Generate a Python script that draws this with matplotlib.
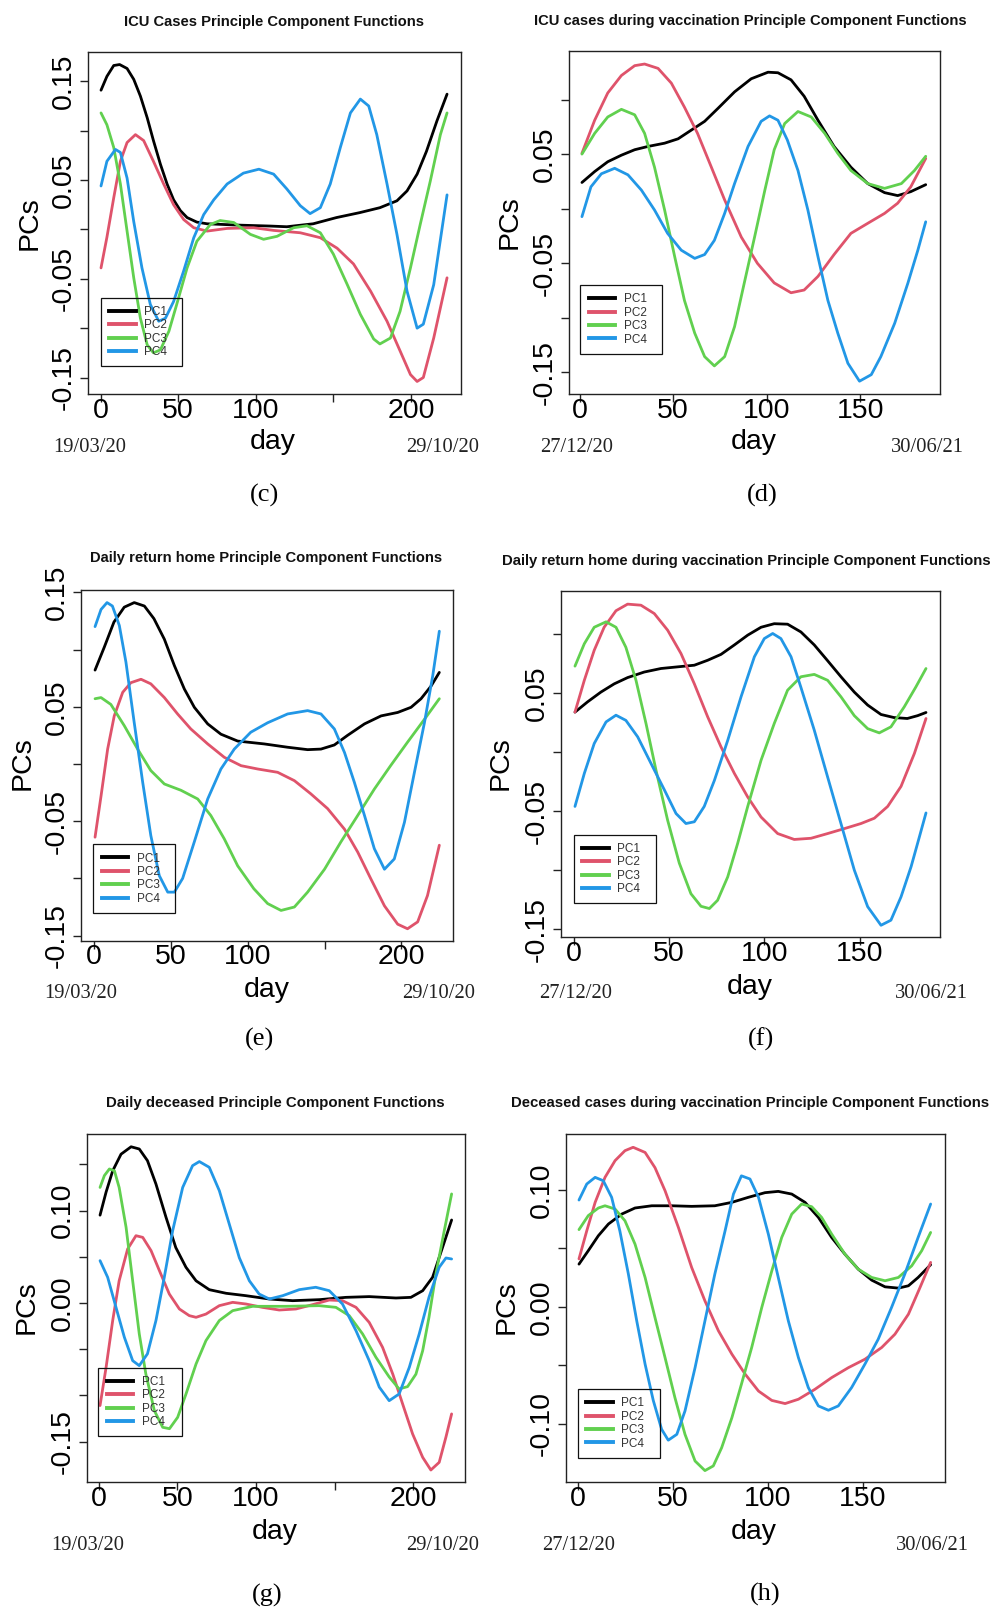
import matplotlib
matplotlib.use('Agg')
import matplotlib.pyplot as plt
from matplotlib.lines import Line2D

W, H, DPI = 994, 1609, 100

# ---------------- data ----------------
# (c) ICU cases
c_pc1_day = [0.2, 4, 8.4, 12.2, 17, 21.3, 25.6, 30, 34, 38.5, 42.8, 47, 51.4, 55.7, 62, 68.6, 88, 109.4, 120, 137, 152, 167, 180, 191, 197.5, 204, 210, 216.8, 223.3]
c_pc1_val = [0.141, 0.155, 0.166, 0.167, 0.163, 0.152, 0.135, 0.113, 0.090, 0.066, 0.046, 0.030, 0.019, 0.012, 0.0074, 0.0057, 0.0044, 0.0034, 0.0027, 0.0057, 0.012, 0.017, 0.022, 0.029, 0.039, 0.056, 0.079, 0.110, 0.137]
c_pc2_day = [0.2, 4, 8.4, 12.7, 17, 22.4, 27.7, 34, 40.6, 47, 53.5, 60, 68.6, 81.5, 98.6, 111.5, 128.7, 141.6, 152.4, 163, 174, 184.6, 193, 199.7, 204, 208, 214.7, 223.3]
c_pc2_val = [-0.039, -0.008, 0.032, 0.069, 0.088, 0.096, 0.090, 0.069, 0.046, 0.025, 0.010, 0.0017, -0.0017, 0.001, 0.0017, -0.001, -0.0034, -0.0084, -0.019, -0.035, -0.0625, -0.093, -0.123, -0.147, -0.154, -0.150, -0.110, -0.049]
c_pc3_day = [0.2, 4, 8.4, 12.7, 17, 21.3, 25.6, 30, 34, 38.5, 44, 49, 55.7, 62, 70.7, 77, 85.8, 96.5, 105, 113.7, 124.4, 133, 141.6, 150, 159, 167.4, 176, 180, 186.8, 193, 199.7, 206, 212.5, 219, 223.3]
c_pc3_val = [0.118, 0.106, 0.083, 0.046, -0.0017, -0.049, -0.090, -0.117, -0.125, -0.122, -0.103, -0.076, -0.039, -0.012, 0.005, 0.009, 0.007, -0.005, -0.010, -0.007, 0.0017, 0.0037, -0.0034, -0.025, -0.056, -0.086, -0.111, -0.116, -0.110, -0.083, -0.039, 0.005, 0.049, 0.096, 0.118]
c_pc4_day = [0.2, 4, 9.5, 12.7, 17, 21.3, 26.6, 32, 37.4, 41.7, 47, 53.5, 60, 66.4, 72.9, 81.5, 92, 102, 111.5, 120, 128.7, 135, 141.6, 148, 154.5, 161, 167.4, 172.8, 178, 184.6, 191, 197.5, 204, 208, 214.7, 223.3]
c_pc4_val = [0.044, 0.069, 0.081, 0.078, 0.052, 0.008, -0.039, -0.076, -0.093, -0.090, -0.073, -0.042, -0.0084, 0.015, 0.030, 0.046, 0.057, 0.061, 0.056, 0.041, 0.024, 0.016, 0.022, 0.046, 0.083, 0.118, 0.132, 0.125, 0.096, 0.046, -0.005, -0.0625, -0.100, -0.096, -0.056, 0.035]

# (d) ICU cases during vaccination
d_pc1_day = [1.2, 8, 15, 22.3, 29.4, 36.5, 45.4, 52.6, 59.7, 66.8, 74, 82.8, 91.7, 100.7, 106, 113, 120, 127.4, 136, 145, 154, 163, 170, 177, 185]
d_pc1_val = [0.024, 0.034, 0.043, 0.049, 0.054, 0.057, 0.060, 0.064, 0.072, 0.080, 0.092, 0.107, 0.119, 0.125, 0.1245, 0.118, 0.103, 0.081, 0.057, 0.038, 0.023, 0.0147, 0.012, 0.0156, 0.022]
d_pc2_day = [1.2, 8, 15, 22.3, 29.4, 34.7, 41.9, 49, 56, 63, 70.4, 77.5, 86.4, 95, 104, 113, 120, 127.4, 136, 145, 154, 163, 170, 177, 185]
d_pc2_val = [0.0507, 0.081, 0.106, 0.122, 0.131, 0.1325, 0.1285, 0.115, 0.093, 0.069, 0.038, 0.008, -0.026, -0.050, -0.068, -0.077, -0.0745, -0.062, -0.042, -0.0226, -0.0134, -0.0043, 0.005, 0.020, 0.046]
d_pc3_day = [1.2, 8, 15, 22.3, 29.4, 34.7, 40, 45.4, 50.8, 56, 61.5, 66.8, 72, 77.5, 82.8, 88, 93.5, 99, 104, 109.6, 116.7, 123.8, 131, 138, 145, 154, 163, 172, 179, 185]
d_pc3_val = [0.050, 0.069, 0.084, 0.091, 0.086, 0.069, 0.038, -0.0012, -0.044, -0.084, -0.114, -0.1355, -0.144, -0.1355, -0.108, -0.068, -0.026, 0.017, 0.054, 0.078, 0.089, 0.084, 0.069, 0.0507, 0.035, 0.023, 0.0186, 0.023, 0.035, 0.048]
d_pc4_day = [1.2, 6, 11.6, 18.7, 25.8, 33, 40, 47, 54.3, 61.5, 66.8, 72, 77.5, 82.8, 90, 97, 101.5, 106, 111, 116.7, 122, 127.4, 132.7, 138, 143.4, 149.6, 155.9, 161, 168.4, 175.5, 180.8, 185]
d_pc4_val = [-0.0073, 0.020, 0.032, 0.037, 0.031, 0.017, -0.0012, -0.0226, -0.038, -0.0455, -0.042, -0.029, -0.0043, 0.023, 0.057, 0.080, 0.085, 0.081, 0.063, 0.035, -0.0012, -0.044, -0.084, -0.114, -0.1416, -0.158, -0.152, -0.1355, -0.105, -0.068, -0.038, -0.012]

# (e) Daily return home
e_pc1_day = [0.7, 6.7, 13, 19.7, 26.2, 32.8, 39, 45.8, 52.3, 58.8, 65.3, 74, 82.6, 93.5, 110.8, 126, 139, 147.7, 156.4, 165, 176, 186.8, 197.6, 206.3, 212.8, 219.3, 224.7]
e_pc1_val = [0.082, 0.102, 0.124, 0.137, 0.141, 0.138, 0.127, 0.109, 0.086, 0.0655, 0.0495, 0.035, 0.026, 0.020, 0.0175, 0.0146, 0.0125, 0.013, 0.0166, 0.025, 0.035, 0.042, 0.045, 0.0495, 0.057, 0.068, 0.080]
e_pc2_day = [0.7, 4.6, 8.9, 13.2, 18.7, 24, 30.6, 37, 45.8, 54.4, 63, 74, 84.8, 95.7, 106.5, 119.5, 130.4, 141, 152, 163, 171.6, 180, 189, 197.6, 204, 210.6, 217, 224.7]
e_pc2_val = [-0.064, -0.028, 0.013, 0.042, 0.0626, 0.071, 0.074, 0.070, 0.058, 0.0437, 0.0306, 0.0175, 0.0058, -0.0015, -0.0044, -0.0073, -0.0146, -0.026, -0.039, -0.057, -0.077, -0.100, -0.124, -0.140, -0.144, -0.138, -0.115, -0.071]
e_pc3_day = [0.7, 4.6, 11, 19.7, 28.4, 37, 45.8, 56.6, 67.5, 76, 84.8, 93.5, 104, 113, 121.7, 130.4, 139, 150, 160.7, 171.6, 182.4, 193, 204, 215, 224.7]
e_pc3_val = [0.057, 0.058, 0.052, 0.0335, 0.013, -0.0058, -0.0175, -0.023, -0.0306, -0.045, -0.0655, -0.089, -0.109, -0.122, -0.128, -0.125, -0.112, -0.092, -0.068, -0.045, -0.022, -0.0015, 0.019, 0.039, 0.057]
e_pc4_day = [0.7, 4.6, 8.5, 12, 16.5, 20.8, 26.2, 31.7, 37, 42.5, 48, 52.3, 57.7, 65.3, 74, 82.6, 91.3, 102, 113, 126, 139, 147.7, 156.4, 163, 169.4, 176, 182.4, 189, 195.4, 202, 208.5, 215, 220.4, 224.7]
e_pc4_val = [0.120, 0.135, 0.141, 0.138, 0.121, 0.089, 0.036, -0.016, -0.0626, -0.0976, -0.112, -0.112, -0.100, -0.068, -0.0306, -0.0044, 0.013, 0.0277, 0.036, 0.0437, 0.0466, 0.0437, 0.0306, 0.010, -0.016, -0.045, -0.074, -0.092, -0.083, -0.051, -0.0073, 0.036, 0.077, 0.116]

# (f) Daily return home during vaccination
f_pc1_day = [0.7, 7.3, 14.3, 21.3, 28.3, 37, 45.8, 54.5, 63.3, 70.3, 77.3, 84.3, 91.3, 98.3, 105.2, 112.2, 119.2, 126.2, 133, 140.2, 147.2, 154.2, 161.2, 168, 175, 180.4, 184.8]
f_pc1_val = [0.034, 0.0427, 0.051, 0.058, 0.0633, 0.068, 0.071, 0.0724, 0.0738, 0.078, 0.083, 0.091, 0.0993, 0.106, 0.109, 0.1086, 0.102, 0.091, 0.078, 0.064, 0.051, 0.040, 0.032, 0.0294, 0.0286, 0.031, 0.0337]
f_pc2_day = [0.7, 5.6, 10.8, 16, 22.2, 28.3, 35.3, 42.3, 49.3, 56.3, 63.3, 70.3, 77.3, 84.3, 91.3, 98.3, 107, 115.7, 124.5, 133.2, 142, 150.7, 157.7, 164.7, 171.7, 178.7, 184.8]
f_pc2_val = [0.034, 0.061, 0.0865, 0.106, 0.120, 0.1256, 0.1247, 0.1176, 0.1035, 0.0837, 0.058, 0.030, 0.0045, -0.018, -0.038, -0.055, -0.069, -0.074, -0.073, -0.069, -0.0648, -0.0605, -0.056, -0.046, -0.029, -0.0011, 0.0286]
f_pc3_day = [0.7, 5.6, 10.8, 17, 22.2, 27.4, 32.7, 38, 43.2, 49.3, 55.4, 61.5, 66.8, 71.2, 75.5, 80.8, 86, 91.3, 98.3, 105.2, 112.2, 119.2, 126.2, 133.2, 140.2, 147.2, 154.2, 160.3, 166.4, 173.4, 179.5, 184.8]
f_pc3_val = [0.073, 0.092, 0.106, 0.1106, 0.106, 0.089, 0.061, 0.024, -0.0153, -0.0577, -0.094, -0.120, -0.1307, -0.1326, -0.1256, -0.1058, -0.0775, -0.046, -0.0068, 0.0243, 0.0526, 0.064, 0.066, 0.061, 0.047, 0.031, 0.020, 0.0164, 0.0215, 0.0385, 0.0554, 0.071]
f_pc4_day = [0.7, 5.6, 10.8, 17, 22.2, 27.4, 33.6, 40.6, 47.6, 53.7, 58.9, 63.3, 68.5, 73.8, 80.8, 87.8, 94.8, 100, 104.4, 108.7, 114, 119.2, 126.2, 133.2, 140.2, 147.2, 154.2, 161.2, 166.4, 171.7, 177, 181.3, 184.8]
f_pc4_val = [-0.046, -0.018, 0.0074, 0.0257, 0.0314, 0.027, 0.013, -0.0096, -0.032, -0.052, -0.0605, -0.059, -0.046, -0.024, 0.010, 0.047, 0.081, 0.0964, 0.1007, 0.0964, 0.081, 0.055, 0.0187, -0.021, -0.0605, -0.100, -0.131, -0.1468, -0.1425, -0.1227, -0.097, -0.072, -0.0515]

# (g) Daily deceased
g_pc1_day = [0.85, 4.7, 8.9, 14.2, 20.6, 25.8, 31, 36.4, 42.8, 49, 55.5, 61.9, 70.3, 81, 93.6, 108.5, 123.3, 140.3, 157.2, 172, 189, 198.5, 206, 212.3, 218.6, 224.4]
g_pc1_val = [0.095, 0.120, 0.143, 0.161, 0.169, 0.1666, 0.154, 0.1287, 0.0927, 0.060, 0.0386, 0.024, 0.0144, 0.0105, 0.0079, 0.0043, 0.0025, 0.0036, 0.0061, 0.0069, 0.0054, 0.0061, 0.0133, 0.0278, 0.060, 0.0898]
g_pc2_day = [0.85, 4.7, 8.9, 13, 18.4, 23.7, 28, 33.3, 38.6, 44.9, 51.3, 57.6, 61.9, 68.2, 76.7, 85.2, 93.6, 104, 114.8, 125.4, 136, 146.6, 155, 163.6, 172, 180.5, 187, 193.2, 199.6, 206, 211.2, 216.5, 220.8, 224.4]
g_pc2_val = [-0.111, -0.0696, -0.019, 0.024, 0.0584, 0.0728, 0.071, 0.0566, 0.035, 0.0097, -0.0065, -0.0137, -0.0155, -0.012, -0.0029, 0.0007, -0.0011, -0.0047, -0.0076, -0.0065, -0.0018, 0.0032, 0.0025, -0.0047, -0.021, -0.048, -0.077, -0.109, -0.1417, -0.167, -0.1807, -0.1724, -0.145, -0.120]
g_pc3_day = [0.85, 3.6, 6.8, 10, 13, 17.4, 21.6, 25.8, 30, 35.4, 40.7, 45, 50.2, 55.5, 61.9, 68.2, 76.7, 85.2, 97.9, 119, 140.2, 150.8, 159.3, 167.8, 176.3, 184.7, 191, 196.4, 201.7, 206, 210, 214.4, 219.7, 224.4]
g_pc3_val = [0.125, 0.1378, 0.145, 0.143, 0.125, 0.082, 0.024, -0.0335, -0.077, -0.1165, -0.1345, -0.136, -0.1237, -0.0985, -0.066, -0.0407, -0.019, -0.0083, -0.0036, -0.0036, -0.0029, -0.0047, -0.0137, -0.0335, -0.0588, -0.080, -0.093, -0.0905, -0.077, -0.0516, -0.0155, 0.0314, 0.078, 0.118]
g_pc4_day = [0.85, 5.7, 11, 16.3, 21.6, 25.8, 31, 36.4, 41.7, 47, 53.4, 59.7, 64, 70.3, 76.7, 83, 89.4, 95.8, 102, 108.5, 117, 127.5, 138, 146.6, 155, 163.6, 172, 178.4, 184.7, 191, 197.5, 203.8, 210, 216.5, 220.8, 224.4]
g_pc4_val = [0.0458, 0.0278, -0.0047, -0.037, -0.0624, -0.0678, -0.055, -0.019, 0.0278, 0.078, 0.125, 0.1486, 0.153, 0.1468, 0.1215, 0.0855, 0.049, 0.024, 0.0097, 0.0043, 0.0079, 0.0144, 0.017, 0.0133, -0.0011, -0.030, -0.0624, -0.091, -0.1057, -0.0985, -0.0696, -0.0335, 0.0061, 0.0386, 0.0487, 0.0476]

# (h) Deceased cases during vaccination
h_pc1_day = [0.5, 5.4, 10.7, 16, 23, 30, 38.8, 49.3, 59.8, 72, 80.9, 89.6, 98.4, 105.4, 112.5, 119.5, 126.5, 133.5, 140.5, 147.5, 154.6, 161.6, 168.6, 173.9, 179, 185.6]
h_pc1_val = [0.0365, 0.048, 0.0608, 0.0708, 0.0793, 0.0845, 0.0864, 0.0864, 0.0859, 0.0864, 0.0893, 0.0936, 0.0976, 0.0987, 0.0964, 0.0893, 0.0765, 0.0593, 0.045, 0.0322, 0.0228, 0.0171, 0.016, 0.018, 0.0251, 0.036]
h_pc2_day = [0.5, 4.6, 9, 14.2, 19.5, 24.7, 29, 35.3, 40.5, 45.8, 52.8, 59.8, 66.8, 73.9, 81, 88, 95, 102, 109, 116, 124.7, 133.5, 142.3, 151, 159.8, 166.8, 173.9, 180, 185.6]
h_pc2_val = [0.041, 0.065, 0.0893, 0.1107, 0.125, 0.1335, 0.1364, 0.132, 0.119, 0.0993, 0.068, 0.0337, 0.0051, -0.0205, -0.0405, -0.0576, -0.072, -0.080, -0.0827, -0.079, -0.0705, -0.0605, -0.052, -0.0448, -0.0348, -0.0234, -0.0063, 0.0165, 0.038]
h_pc3_day = [0.5, 5.4, 10.7, 14.2, 19.5, 24.7, 30, 35.3, 40.5, 45.8, 51, 56.3, 61.6, 66.8, 71.2, 75.6, 81, 86, 91.4, 96.7, 102, 107.2, 112.5, 117.7, 123, 128.2, 133.5, 140.5, 147.5, 154.6, 161.6, 168.6, 175.6, 180.9, 185.6]
h_pc3_val = [0.066, 0.078, 0.0845, 0.0864, 0.0836, 0.0736, 0.0536, 0.0251, -0.0091, -0.0434, -0.0776, -0.109, -0.1318, -0.140, -0.136, -0.1204, -0.0947, -0.0662, -0.0348, -0.0006, 0.0308, 0.0593, 0.0793, 0.0879, 0.0856, 0.0765, 0.0622, 0.045, 0.0322, 0.0251, 0.0223, 0.0251, 0.035, 0.048, 0.0636]
h_pc4_day = [0.5, 4.6, 9, 13.3, 17.7, 22, 26.5, 30.9, 35.3, 39.6, 44, 47.5, 52, 56.3, 61.6, 66.8, 72, 77.4, 81.8, 86, 90.5, 95, 100.2, 105.4, 110.7, 116, 121.2, 126.5, 131.8, 137, 144, 151, 158, 165, 172, 179, 185.6]
h_pc4_val = [0.0913, 0.105, 0.1107, 0.1078, 0.0936, 0.065, 0.028, -0.012, -0.049, -0.080, -0.1047, -0.114, -0.109, -0.089, -0.052, -0.012, 0.028, 0.065, 0.0964, 0.112, 0.1093, 0.0936, 0.062, 0.0251, -0.012, -0.0434, -0.069, -0.0847, -0.0884, -0.0847, -0.069, -0.049, -0.0277, -0.0006, 0.028, 0.0593, 0.0879]

pc_labels = ['PC1', 'PC2', 'PC3', 'PC4']
pc_colors = ['#000000', '#DF536B', '#61D04F', '#2297E6']

titles = {
    'c': 'ICU Cases Principle Component Functions',
    'd': 'ICU cases during vaccination Principle Component Functions',
    'e': 'Daily return home Principle Component Functions',
    'f': 'Daily return home during vaccination Principle Component Functions',
    'g': 'Daily deceased Principle Component Functions',
    'h': 'Deceased cases during vaccination Principle Component Functions',
}
start_dates = {'c': '19/03/20', 'd': '27/12/20', 'e': '19/03/20', 'f': '27/12/20', 'g': '19/03/20', 'h': '27/12/20'}
end_dates = {'c': '29/10/20', 'd': '30/06/21', 'e': '29/10/20', 'f': '30/06/21', 'g': '29/10/20', 'h': '30/06/21'}

series = {
    'c': [(c_pc1_day, c_pc1_val), (c_pc2_day, c_pc2_val), (c_pc3_day, c_pc3_val), (c_pc4_day, c_pc4_val)],
    'd': [(d_pc1_day, d_pc1_val), (d_pc2_day, d_pc2_val), (d_pc3_day, d_pc3_val), (d_pc4_day, d_pc4_val)],
    'e': [(e_pc1_day, e_pc1_val), (e_pc2_day, e_pc2_val), (e_pc3_day, e_pc3_val), (e_pc4_day, e_pc4_val)],
    'f': [(f_pc1_day, f_pc1_val), (f_pc2_day, f_pc2_val), (f_pc3_day, f_pc3_val), (f_pc4_day, f_pc4_val)],
    'g': [(g_pc1_day, g_pc1_val), (g_pc2_day, g_pc2_val), (g_pc3_day, g_pc3_val), (g_pc4_day, g_pc4_val)],
    'h': [(h_pc1_day, h_pc1_val), (h_pc2_day, h_pc2_val), (h_pc3_day, h_pc3_val), (h_pc4_day, h_pc4_val)],
}

x_long = [0, 50, 100, 150, 200]
x_long_lab = ['0', '50', '100', '', '200']
x_short = [0, 50, 100, 150]
x_short_lab = ['0', '50', '100', '150']
y_a = [-0.15, -0.10, -0.05, 0.0, 0.05, 0.10, 0.15]
y_a_lab = ['-0.15', '', '-0.05', '', '0.05', '', '0.15']
y_b = [-0.15, -0.10, -0.05, 0.0, 0.05, 0.10]
y_b_lab = ['-0.15', '', '-0.05', '', '0.05', '']
y_g_lab = ['-0.15', '', '', '0.00', '', '0.10', '']
y_h = [-0.10, -0.05, 0.0, 0.05, 0.10]
y_h_lab = ['-0.10', '', '0.00', '', '0.10']

# ---------------- layout (pixels) ----------------
layout = {
    'c': dict(box=(87.7, 51.7, 460.7, 394.3), xlim=(-8.38, 232.1), ylim=(-0.167, 0.180),
              xt=(x_long, x_long_lab), yt=(y_a, y_a_lab), title=(274, 22, 301),
              day=(273, 441.7), pcs=(30, 223), d0=(90, 448), d1=(442.7, 448),
              letter=(264.7, 495.5), leg=(100.7, 297.7, 81.6, 74.6)),
    'd': dict(box=(568.7, 50.7, 940.3, 394.3), xlim=(-5.88, 192.8), ylim=(-0.170, 0.1447),
              xt=(x_short, x_short_lab), yt=(y_b, y_b_lab), title=(750.8, 21.3, 431),
              day=(753.7, 441.7), pcs=(510, 221.7), d0=(577, 448), d1=(927, 448),
              letter=(762, 495.5), leg=(580.3, 285, 81.4, 74.3)),
    'e': dict(box=(81.3, 590, 452.7, 941), xlim=(-8.24, 233.4), ylim=(-0.1547, 0.152),
              xt=(x_long, x_long_lab), yt=(y_a, y_a_lab), title=(266.3, 558.3, 354),
              day=(266.7, 990), pcs=(23, 763), d0=(81, 993.3), d1=(438.7, 993.3),
              letter=(259.6, 1039.5), leg=(93.3, 844.3, 81.7, 76.4)),
    'f': dict(box=(561.3, 590.7, 940.3, 937.3), xlim=(-6.47, 192.3), ylim=(-0.157, 0.137),
              xt=(x_short, x_short_lab), yt=(y_b, y_b_lab), title=(746.3, 560.7, 493),
              day=(750, 986.7), pcs=(501, 763), d0=(575.3, 993.3), d1=(931.3, 993.3),
              letter=(761.4, 1039.5), leg=(573.7, 834.7, 82.6, 75.3)),
    'g': dict(box=(86.7, 1134.3, 465.3, 1482.3), xlim=(-7.63, 233.1), ylim=(-0.194, 0.1825),
              xt=(x_long, x_long_lab), yt=(y_a, y_g_lab), title=(275.5, 1103.3, 341),
              day=(275, 1531.7), pcs=(26.7, 1306.7), d0=(87.7, 1545), d1=(442.7, 1545),
              letter=(266.7, 1595), leg=(98.3, 1367.7, 83.4, 76.3)),
    'h': dict(box=(565.7, 1134.3, 944.7, 1482.3), xlim=(-6.49, 193.0), ylim=(-0.150, 0.1475),
              xt=(x_short, x_short_lab), yt=(y_h, y_h_lab), title=(750.3, 1103.3, 480),
              day=(753.7, 1531.7), pcs=(507, 1306.7), d0=(578.7, 1545), d1=(932, 1545),
              letter=(765.3, 1594.3), leg=(577.7, 1389, 82.6, 76)),
}

SANS = ['Liberation Sans', 'DejaVu Sans']
SERIF = ['Liberation Serif', 'DejaVu Serif']
AX_FS = 20.5
DATE_FS = 14.8
LET_FS = 19
LEG_FS = 8.5
EDGE = '#222222'


def fx(px):
    return px / W


def fy(py):
    return 1 - py / H


fig = plt.figure(figsize=(W / DPI, H / DPI), dpi=DPI)
fig.patch.set_facecolor('white')
renderer = fig.canvas.get_renderer()

for key in ['c', 'd', 'e', 'f', 'g', 'h']:
    L = layout[key]
    x0, y0, x1, y1 = L['box']
    ax = fig.add_axes([fx(x0), fy(y1), (x1 - x0) / W, (y1 - y0) / H])
    for (dd, vv), col in zip(series[key], pc_colors):
        ax.plot(dd, vv, color=col, lw=2.0, solid_joinstyle='round', solid_capstyle='round')
    ax.set_xlim(*L['xlim'])
    ax.set_ylim(*L['ylim'])
    for s in ax.spines.values():
        s.set_color(EDGE)
        s.set_linewidth(1.0)
    xt, xl = L['xt']
    yt, yl = L['yt']
    ax.set_xticks(xt)
    ax.set_xticklabels(xl, fontsize=AX_FS, family=SANS)
    ax.set_yticks(yt)
    ax.set_yticklabels(yl, fontsize=AX_FS, family=SANS, rotation=90, va='center')
    ax.tick_params(axis='both', direction='out', length=5.5, width=1.0, color=EDGE)
    ax.tick_params(axis='x', pad=-3)
    ax.tick_params(axis='y', pad=2.5)

    handles = [Line2D([], [], color=c, lw=2.8) for c in pc_colors]
    lx, ly, lw_, lh_ = L['leg']
    leg = ax.legend(handles, pc_labels, loc='upper left',
                    bbox_to_anchor=(fx(lx), fy(ly + lh_), lw_ / W, lh_ / H),
                    bbox_transform=fig.transFigure, mode='expand', borderaxespad=0,
                    prop={'family': SANS, 'size': LEG_FS}, handlelength=2.26,
                    handletextpad=0.7, labelspacing=0.12, borderpad=0.7,
                    fancybox=False, edgecolor='#111111')
    frame = leg.get_frame()
    frame.set_linewidth(0.9)
    frame.set_facecolor('none')
    frame.set_alpha(None)
    frame.set_edgecolor('#111111')
    for txt in leg.get_texts():
        txt.set_color('#333333')

    tx, ty, tw = L['title']
    t = fig.text(fx(tx), fy(ty), titles[key], ha='center', va='center',
                 fontsize=10, fontweight='bold', family=SANS, color='#111111')
    wpx = t.get_window_extent(renderer=renderer).width
    t.set_fontsize(10 * tw / wpx)

    fig.text(fx(L['day'][0]), fy(L['day'][1]), 'day', ha='center', va='center',
             fontsize=AX_FS, family=SANS)
    fig.text(fx(L['pcs'][0]), fy(L['pcs'][1]), 'PCs', ha='center', va='center',
             fontsize=AX_FS, family=SANS, rotation=90)
    fig.text(fx(L['d0'][0]), fy(L['d0'][1]), start_dates[key], ha='center', va='center',
             fontsize=DATE_FS, family=SERIF, color='#222222')
    fig.text(fx(L['d1'][0]), fy(L['d1'][1]), end_dates[key], ha='center', va='center',
             fontsize=DATE_FS, family=SERIF, color='#222222')
    fig.text(fx(L['letter'][0]), fy(L['letter'][1]), '(' + key + ')', ha='center', va='center',
             fontsize=LET_FS, family=SERIF)

fig.savefig('out.png', dpi=DPI, facecolor='white')
